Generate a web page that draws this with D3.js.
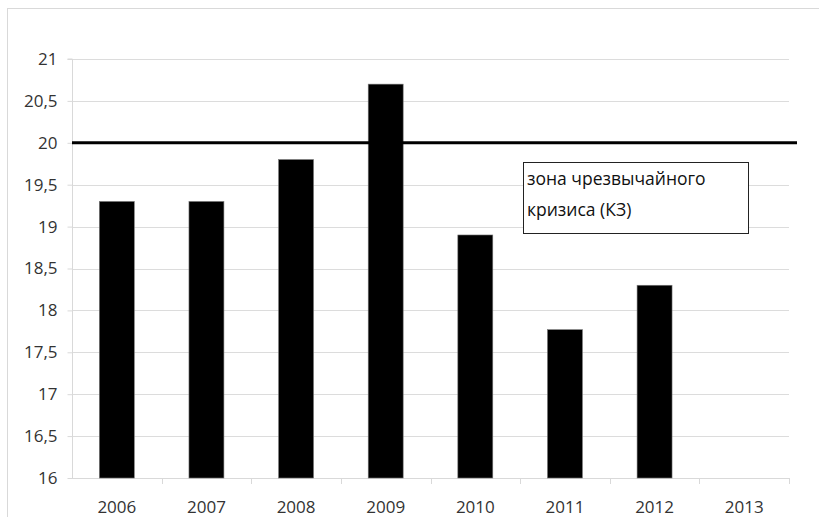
<!DOCTYPE html>
<html><head><meta charset="utf-8">
<script src="https://cdn.jsdelivr.net/npm/d3@7"></script>
<style>body{margin:0;background:#fff}svg{display:block}</style>
</head><body>
<svg id="c" width="819" height="517"></svg>
<script>
const categories = ["2006","2007","2008","2009","2010","2011","2012","2013"];
const values = [19.3, 19.3, 19.8, 20.7, 18.9, 17.77, 18.3, null];
const yTicks = [16,16.5,17,17.5,18,18.5,19,19.5,20,20.5,21];
const threshold = 20;
const noteLines = ["зона чрезвычайного","кризиса (КЗ)"];

const svg = d3.select("#c");
const font = "'Open Sans', 'DejaVu Sans', sans-serif";
const m = {l:72, r:789, t:59, b:478};

svg.append("rect").attr("x",7.5).attr("y",8.5).attr("width",830).attr("height",530)
  .attr("fill","none").attr("stroke","#d9d9d9");

const x = d3.scaleBand().domain(categories).range([m.l,m.r]).paddingInner(0).paddingOuter(0);
const y = d3.scaleLinear().domain([16,21]).range([m.b,m.t]);

// gridlines
svg.append("g").selectAll("line").data(yTicks.filter(d=>d>16)).join("line")
  .attr("x1",m.l).attr("x2",m.r).attr("y1",d=>Math.round(y(d))+0.5).attr("y2",d=>Math.round(y(d))+0.5)
  .attr("stroke","#dcdcdc").attr("stroke-width",1);

// y axis
const ya = svg.append("g").attr("transform",`translate(${m.l+0.5},0)`)
  .call(d3.axisLeft(y).tickValues(yTicks).tickSize(5).tickPadding(10)
    .tickFormat(d=>String(d).replace(".",",")));
ya.select(".domain").attr("stroke","#d9d9d9").attr("d",`M-5,${m.t}H0V${m.b}`);
ya.selectAll(".tick line").attr("stroke","#d9d9d9");
ya.selectAll("text").attr("font-family",font).attr("font-size",17).attr("fill","#333");

// x axis
const xa = svg.append("g").attr("transform",`translate(0,${m.b+0.5})`)
  .call(d3.axisBottom(x).tickSize(0).tickPadding(22));
xa.select(".domain").attr("stroke","#d9d9d9").attr("d",`M${m.l},0H${m.r}`);
xa.selectAll("text").attr("font-family",font).attr("font-size",17).attr("fill","#333");
svg.append("g").selectAll("line").data(categories.map((c,i)=>i+1)).join("line")
  .attr("x1",i=>Math.round(m.l+i*x.bandwidth())+0.5).attr("x2",i=>Math.round(m.l+i*x.bandwidth())+0.5)
  .attr("y1",m.b).attr("y2",m.b+6).attr("stroke","#d9d9d9");

// bars
const bw = x.bandwidth()*0.39;
svg.append("g").selectAll("rect").data(categories.map((c,i)=>({c,v:values[i]})).filter(d=>d.v!=null)).join("rect")
  .attr("x",d=>x(d.c)+(x.bandwidth()-bw)/2).attr("width",bw)
  .attr("y",d=>y(d.v)).attr("height",d=>y(16)-y(d.v))
  .attr("fill","#000").attr("stroke","#777").attr("stroke-width",0.6);

// threshold line
svg.append("line").attr("x1",m.l).attr("x2",797).attr("y1",y(threshold)).attr("y2",y(threshold))
  .attr("stroke","#000").attr("stroke-width",3);

// note box
const bx = 523, by = 162, bwid = 225, bh = 71;
svg.append("rect").attr("x",bx+0.5).attr("y",by+0.5).attr("width",bwid).attr("height",bh)
  .attr("fill","#fff").attr("stroke","#222").attr("stroke-width",1);
svg.append("g").selectAll("text").data(noteLines).join("text")
  .attr("x",bx+4).attr("y",(d,i)=>by+23+i*31)
  .attr("font-family",font).attr("font-size",17.5).attr("fill","#111").text(d=>d);
</script>
</body></html>
